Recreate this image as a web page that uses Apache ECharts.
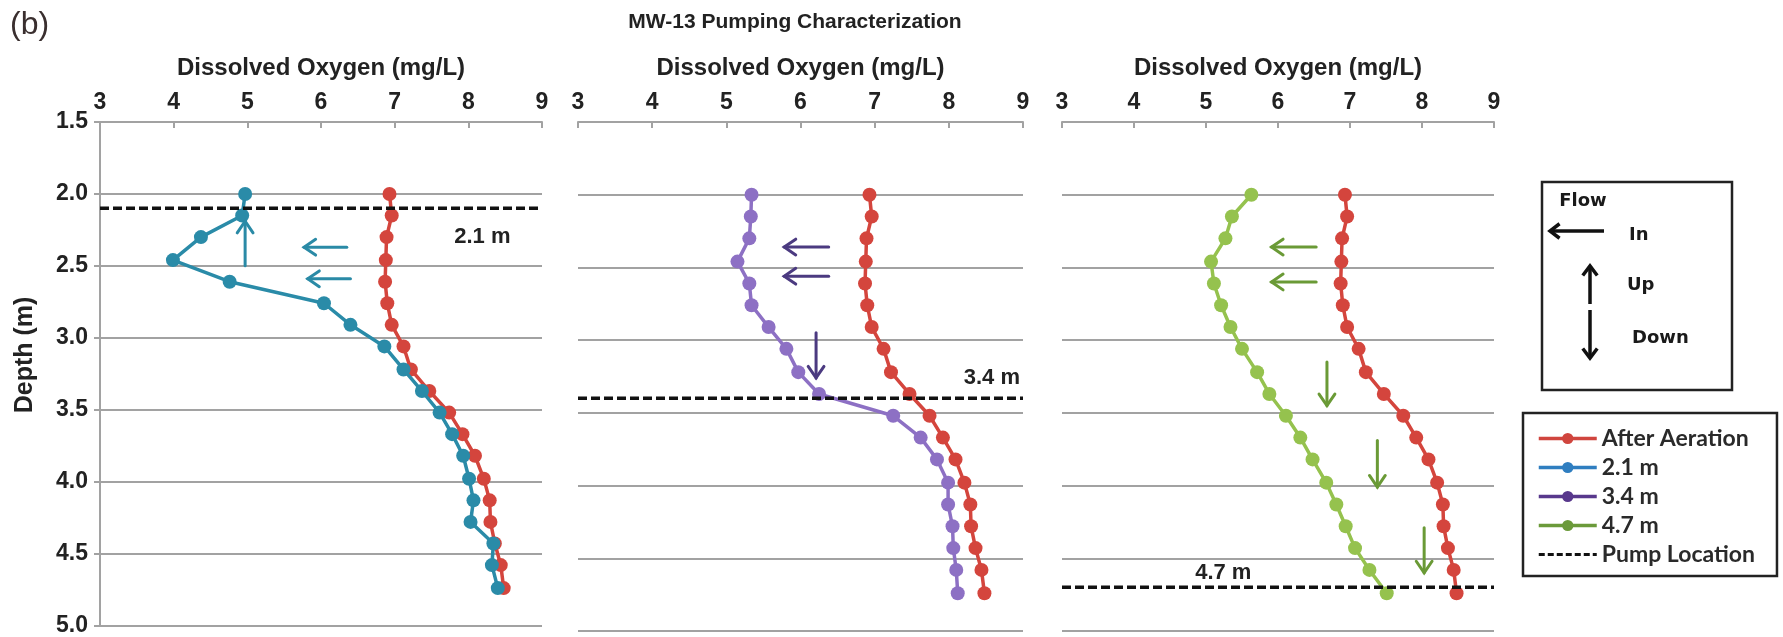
<!DOCTYPE html>
<html>
<head>
<meta charset="utf-8">
<script src="https://cdn.jsdelivr.net/npm/echarts@6/dist/echarts.min.js"></script>
<style>
  html, body { margin: 0; padding: 0; background: #fff; }
  #chart { width: 1783px; height: 637px; }
</style>
</head>
<body>
<div id="chart"></div>
<script>
// Reading depths below top of casing (m)
const depths = [2.00, 2.15, 2.30, 2.46, 2.61, 2.76, 2.91, 3.06, 3.22, 3.37,
                3.52, 3.67, 3.82, 3.98, 4.13, 4.28, 4.43, 4.58, 4.74];

// Dissolved oxygen profiles (mg/L)
const afterAeration = [6.93, 6.96, 6.89, 6.88, 6.87, 6.90, 6.96, 7.12, 7.22, 7.47,
                       7.74, 7.92, 8.09, 8.21, 8.29, 8.30, 8.36, 8.44, 8.48];
const pump21 = [4.97, 4.93, 4.37, 3.99, 4.76, 6.04, 6.40, 6.86, 7.12, 7.37,
                7.61, 7.78, 7.93, 8.01, 8.07, 8.03, 8.34, 8.32, 8.40];
const pump34 = [5.34, 5.33, 5.31, 5.15, 5.31, 5.34, 5.57, 5.81, 5.97, 6.25,
                7.25, 7.62, 7.84, 7.99, 7.99, 8.05, 8.06, 8.10, 8.12];
const pump47 = [5.63, 5.36, 5.27, 5.07, 5.11, 5.21, 5.34, 5.50, 5.71, 5.88,
                6.11, 6.31, 6.48, 6.67, 6.81, 6.94, 7.07, 7.27, 7.51];

// Pump intake depth for each test (m) and its label
const pumpDepths = [2.1, 3.4, 4.7];
const pumpLabels = ['2.1 m', '3.4 m', '4.7 m'];
const profileNames = ['2.1 m', '3.4 m', '4.7 m'];

// Axis ticks
const doTicks = [3, 4, 5, 6, 7, 8, 9];
const depthTicks = [1.5, 2.0, 2.5, 3.0, 3.5, 4.0, 4.5, 5.0];

// Flow direction arrows: [DO from, depth from, DO to, depth to]
const flowArrows21 = [[6.35, 2.37, 5.77, 2.37], [6.40, 2.59, 5.82, 2.59], [4.97, 2.50, 4.97, 2.19]];
const flowArrows34 = [[6.38, 2.36, 5.78, 2.36], [6.38, 2.56, 5.78, 2.56], [6.21, 2.95, 6.21, 3.26]];
const flowArrows47 = [[6.53, 2.36, 5.91, 2.36], [6.53, 2.60, 5.91, 2.60],
                      [6.68, 3.15, 6.68, 3.45], [7.38, 3.69, 7.38, 4.01], [8.03, 4.29, 8.03, 4.60]];

const profiles = [pump21, pump34, pump47];
const flowArrows = [flowArrows21, flowArrows34, flowArrows47];

// ---- drawing setup ----
const FONT = '"Liberation Sans", Arial, sans-serif';
const TXT = '#222';
const GRID_GRAY = '#a2a2a2';
const AERATION_COLOR = '#d4453d';
const profileColors = ['#2a8ba8', '#8d70c4', '#95c24e'];
const arrowColors = ['#2a8aa6', '#4b3a80', '#6a9a36'];
const legendColors = { 'After Aeration': '#d0453e', '2.1 m': '#2f7ec0', '3.4 m': '#58388c', '4.7 m': '#6b9a3a' };
const panels = [
  { left: 100, width: 442 },
  { left: 578, width: 445 },
  { left: 1062, width: 432 }
];
const pumpLabelAt = [[8.19, 2.30], [8.58, 3.26], [5.24, 4.60]];

const chart = echarts.init(document.getElementById('chart'), null, { renderer: 'canvas' });

function arrowRenderer(color) {
  return function (params, api) {
    const p1 = api.coord([api.value(0), api.value(1)]);
    const p2 = api.coord([api.value(2), api.value(3)]);
    const ang = Math.atan2(p2[1] - p1[1], p2[0] - p1[0]);
    const head = 14, spread = 0.6;
    const a1 = [p2[0] - head * Math.cos(ang - spread), p2[1] - head * Math.sin(ang - spread)];
    const a2 = [p2[0] - head * Math.cos(ang + spread), p2[1] - head * Math.sin(ang + spread)];
    return {
      type: 'group',
      children: [
        { type: 'line', shape: { x1: p1[0], y1: p1[1], x2: p2[0], y2: p2[1] },
          style: { stroke: color, lineWidth: 3, lineCap: 'round' } },
        { type: 'polyline', shape: { points: [a1, p2, a2] },
          style: { stroke: color, lineWidth: 3, fill: null, lineCap: 'round' } }
      ]
    };
  };
}

const grids = [], xAxes = [], yAxes = [], series = [];
panels.forEach((pn, p) => {
  grids.push({ left: pn.left, width: pn.width, top: 122, height: 509 });
  xAxes.push({
    type: 'value', gridIndex: p, position: 'top',
    min: doTicks[0], max: doTicks[doTicks.length - 1], interval: 1,
    name: 'Dissolved Oxygen (mg/L)', nameLocation: 'middle', nameGap: 42,
    nameTextStyle: { fontSize: 24, fontWeight: 'bold', color: TXT, fontFamily: FONT },
    axisLine: { show: true, lineStyle: { color: GRID_GRAY, width: 2 } },
    axisTick: { show: true, inside: true, length: 6, lineStyle: { color: GRID_GRAY, width: 2 } },
    axisLabel: { fontSize: 23, fontWeight: 'bold', color: TXT, fontFamily: FONT, margin: 8 },
    splitLine: { show: false }
  });
  yAxes.push({
    type: 'value', gridIndex: p, inverse: true,
    min: depthTicks[0], max: depthTicks[depthTicks.length - 1], interval: 0.5,
    axisLine: { show: p === 0, lineStyle: { color: GRID_GRAY, width: 2 } },
    axisTick: { show: p === 0, length: 6, lineStyle: { color: GRID_GRAY, width: 2 } },
    axisLabel: { show: p === 0, formatter: v => v.toFixed(1), fontSize: 23, fontWeight: 'bold',
                 color: TXT, fontFamily: FONT, margin: 12 },
    splitLine: { show: true, lineStyle: { color: GRID_GRAY, width: 2 } }
  });

  series.push({
    type: 'line', name: 'After Aeration', xAxisIndex: p, yAxisIndex: p,
    data: afterAeration.map((v, i) => [v, depths[i]]),
    symbol: 'circle', symbolSize: 14, showSymbol: true,
    itemStyle: { color: AERATION_COLOR }, lineStyle: { color: AERATION_COLOR, width: 3.5 },
    z: 3, animation: false
  });
  series.push({
    type: 'line', name: profileNames[p], xAxisIndex: p, yAxisIndex: p,
    data: profiles[p].map((v, i) => [v, depths[i]]),
    symbol: 'circle', symbolSize: 14, showSymbol: true,
    itemStyle: { color: profileColors[p] }, lineStyle: { color: profileColors[p], width: 3.5 },
    z: 4, animation: false
  });
  series.push({
    type: 'custom', name: 'flow ' + (p + 1), xAxisIndex: p, yAxisIndex: p,
    data: flowArrows[p], encode: { x: [0, 2], y: [1, 3] },
    renderItem: arrowRenderer(arrowColors[p]), silent: true, z: 5, animation: false
  });
  series.push({
    type: 'line', name: 'Pump Location', xAxisIndex: p, yAxisIndex: p,
    data: [[doTicks[0], pumpDepths[p]], [doTicks[doTicks.length - 1], pumpDepths[p]]],
    symbol: 'none', itemStyle: { color: '#111' },
    lineStyle: { color: '#111', width: 3.5, type: [9, 4] },
    z: 6, animation: false, silent: true,
    markPoint: {
      symbol: 'rect', symbolSize: 1, itemStyle: { color: 'rgba(0,0,0,0)' },
      data: [{ coord: pumpLabelAt[p], value: pumpLabels[p] }],
      label: { show: true, position: 'inside', formatter: pumpLabels[p], fontSize: 22,
               fontWeight: 'bold', color: TXT, fontFamily: FONT }
    }
  });
});

// Flow-direction key drawn as graphics
function keyArrow(x1, y1, x2, y2) {
  const ang = Math.atan2(y2 - y1, x2 - x1);
  const head = 12, spread = 0.65;
  return [
    { type: 'line', shape: { x1, y1, x2, y2 }, style: { stroke: '#111', lineWidth: 3.5 } },
    { type: 'polyline', shape: { points: [
        [x2 - head * Math.cos(ang - spread), y2 - head * Math.sin(ang - spread)], [x2, y2],
        [x2 - head * Math.cos(ang + spread), y2 - head * Math.sin(ang + spread)]] },
      style: { stroke: '#111', lineWidth: 3.5, fill: null } }
  ];
}
function keyText(text, x, y, align, size) {
  return { type: 'text', style: { text, x, y, fill: '#1a1a1a',
           font: 'bold ' + size + 'px "DejaVu Sans", sans-serif',
           align: align, verticalAlign: 'middle', textAlign: align, textVerticalAlign: 'middle' } };
}
const graphic = [
  { type: 'rect', shape: { x: 1542, y: 182, width: 190, height: 208 },
    style: { fill: '#fff', stroke: '#222', lineWidth: 2.5 } },
  keyText('Flow', 1583, 201, 'center', 18),
  ...keyArrow(1604, 231, 1550, 231),
  keyText('In', 1629, 235, 'left', 18),
  ...keyArrow(1590, 304, 1590, 266),
  keyText('Up', 1627, 285, 'left', 18),
  ...keyArrow(1590, 310, 1590, 358),
  keyText('Down', 1632, 338, 'left', 18),
  // vertical axis title
  { type: 'text', x: 25, y: 355, rotation: Math.PI / 2,
    style: { text: 'Depth (m)', x: 0, y: 0, fill: TXT, font: 'bold 25px ' + FONT,
             align: 'center', verticalAlign: 'middle', textAlign: 'center', textVerticalAlign: 'middle' } }
];

const option = {
  backgroundColor: '#fff',
  animation: false,
  title: [
    { text: 'MW-13 Pumping Characterization', left: 790, top: 7, textAlign: 'center',
      textStyle: { fontSize: 21, fontWeight: 'bold', color: TXT, fontFamily: FONT } },
    { text: '(b)', left: 5, top: 4,
      textStyle: { fontSize: 32, fontWeight: 'normal', color: '#3a2f2f', fontFamily: FONT } }
  ],
  legend: {
    orient: 'vertical', left: 1523, top: 413,
    padding: [14, 22, 10, 14], itemGap: 6, itemWidth: 58, itemHeight: 14,
    borderColor: '#222', borderWidth: 2.5, backgroundColor: '#fff',
    textStyle: { fontSize: 23, fontWeight: 'bold', color: '#2a2a2a', fontFamily: 'Lato, sans-serif',
                 lineHeight: 23 },
    selectedMode: false,
    data: ['After Aeration', '2.1 m', '3.4 m', '4.7 m'].map(n => ({
      name: n, itemStyle: { color: legendColors[n] }, lineStyle: { color: legendColors[n], width: 3.5 }
    })).concat([{ name: 'Pump Location', itemStyle: { color: 'rgba(0,0,0,0)', borderWidth: 0 },
                  lineStyle: { color: '#111', width: 3, type: [6, 3] } }])
  },
  grid: grids,
  xAxis: xAxes,
  yAxis: yAxes,
  series: series,
  graphic: graphic
};

chart.setOption(option);
</script>
</body>
</html>
